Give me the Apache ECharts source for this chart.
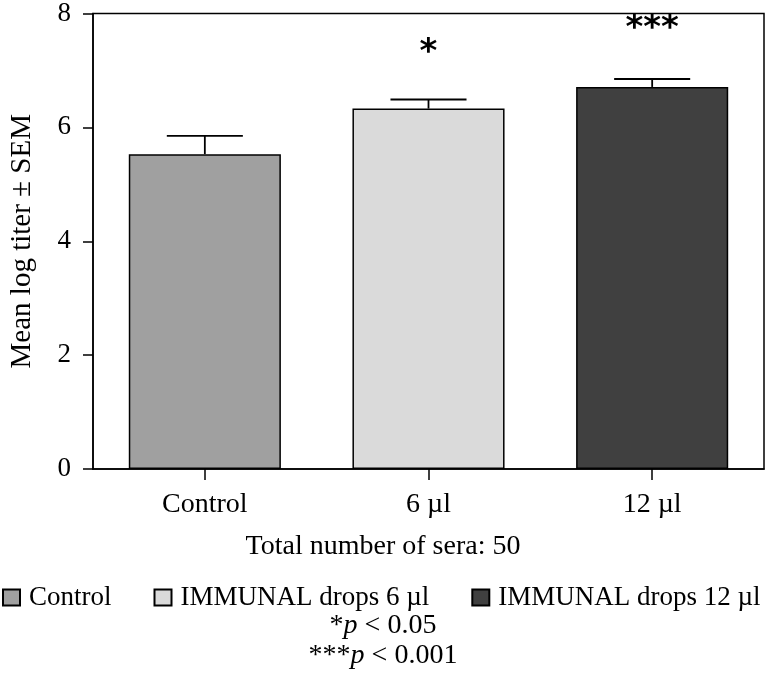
<!DOCTYPE html>
<html>
<head>
<meta charset="utf-8">
<script src="https://cdn.jsdelivr.net/npm/echarts@6/dist/echarts.min.js"></script>
<style>
html,body{margin:0;padding:0;background:#fff;}
#chart{width:766px;height:673px;}
</style>
</head>
<body>
<div id="chart"></div>
<script>
// ---- data ----
const categories = ['Control', '6 µl', '12 µl'];
const seriesNames = ['Control', 'IMMUNAL drops 6 µl', 'IMMUNAL drops 12 µl'];
const means = [5.53, 6.33, 6.71];
const sem = [0.32, 0.16, 0.14];
const sigMarks = ['', '*', '***'];
const sigY = [null, 7.3, 7.72];
const yTicks = [0, 2, 4, 6, 8];
const barColors = ['#a0a0a0', '#dadada', '#404040'];

const serif = '"Liberation Serif", "Times New Roman", serif';
const chart = echarts.init(document.getElementById('chart'), null, {renderer: 'canvas'});

const barSeries = seriesNames.map((name, i) => ({
  name: name,
  type: 'bar',
  barWidth: '68%',
  barGap: '-100%',
  data: categories.map((c, j) => (j === i ? means[j] : '-')),
  itemStyle: {color: barColors[i], borderColor: '#000', borderWidth: 1.5},
  z: 3
}));

const errSeries = {
  type: 'custom',
  name: 'sem',
  data: categories.map((c, i) => [i, means[i], sem[i]]),
  encode: {x: 0, y: 1},
  z: 4,
  renderItem: function (params, api) {
    const x = api.value(0), m = api.value(1), s = api.value(2);
    const base = api.coord([x, m]);
    const top = api.coord([x, m + s]);
    const half = api.size([1, 0])[0] * 0.17;
    const st = {stroke: '#000', lineWidth: 1.8};
    return {
      type: 'group',
      children: [
        {type: 'line', shape: {x1: base[0], y1: base[1], x2: top[0], y2: top[1]}, style: st},
        {type: 'line', shape: {x1: top[0] - half, y1: top[1], x2: top[0] + half, y2: top[1]}, style: st}
      ]
    };
  }
};

const sigSeries = {
  type: 'scatter',
  name: 'sig',
  symbolSize: 0,
  data: categories.map((c, i) => (sigY[i] == null ? null : {value: [i, sigY[i]], mark: sigMarks[i]})).filter(d => d),
  label: {
    show: true,
    position: 'inside',
    formatter: p => p.data.mark,
    fontFamily: '"DejaVu Sans", sans-serif',
    fontWeight: 'bold',
    fontSize: 34,
    color: '#000',
    textBorderWidth: 0,
    opacity: 1
  },
  itemStyle: {opacity: 1},
  silent: true,
  z: 5
};

const option = {
  backgroundColor: '#fff',
  animation: false,
  textStyle: {fontFamily: serif, color: '#000'},
  grid: {left: 89, right: 2, top: 10, bottom: 204, show: true, borderColor: '#000', borderWidth: 1.5, backgroundColor: 'transparent'},
  legend: {
    data: seriesNames,
    left: 2,
    top: 584,
    width: 800,
    padding: 0,
    icon: 'rect',
    itemWidth: 17,
    itemHeight: 16,
    itemGap: 42,
    textStyle: {fontFamily: serif, fontSize: 27, color: '#000', padding: [0, 0, 0, 4]}
  },
  xAxis: {
    type: 'category',
    data: categories,
    axisLine: {show: true, lineStyle: {color: '#000', width: 1.5}},
    axisTick: {show: true, alignWithLabel: true, length: 11, lineStyle: {color: '#000', width: 1.5}},
    axisLabel: {fontFamily: serif, fontSize: 28, color: '#000', margin: 22},
    splitLine: {show: false}
  },
  yAxis: {
    type: 'value',
    min: yTicks[0],
    max: yTicks[yTicks.length - 1],
    interval: yTicks[1] - yTicks[0],
    name: 'Mean log titer ± SEM',
    nameLocation: 'middle',
    nameGap: 56,
    nameTextStyle: {fontFamily: serif, fontSize: 29, color: '#000'},
    axisLine: {show: true, lineStyle: {color: '#000', width: 1.5}},
    axisTick: {show: true, length: 10, lineStyle: {color: '#000', width: 1.5}},
    axisLabel: {fontFamily: serif, fontSize: 27, color: '#000', margin: 22},
    splitLine: {show: false}
  },
  graphic: [
    {type: 'text', left: 'center', top: 533, style: {text: 'Total number of sera: 50', font: '28px ' + serif, fill: '#000'}},
    {type: 'text', left: 'center', top: 612, style: {text: '*{i|p} < 0.05', font: '28px ' + serif, fill: '#000', rich: {i: {fontStyle: 'italic', fontFamily: serif, fontSize: 28}}}},
    {type: 'text', left: 'center', top: 642, style: {text: '***{i|p} < 0.001', font: '28px ' + serif, fill: '#000', rich: {i: {fontStyle: 'italic', fontFamily: serif, fontSize: 28}}}}
  ],
  series: [...barSeries, errSeries, sigSeries]
};
chart.setOption(option);
</script>
</body>
</html>
